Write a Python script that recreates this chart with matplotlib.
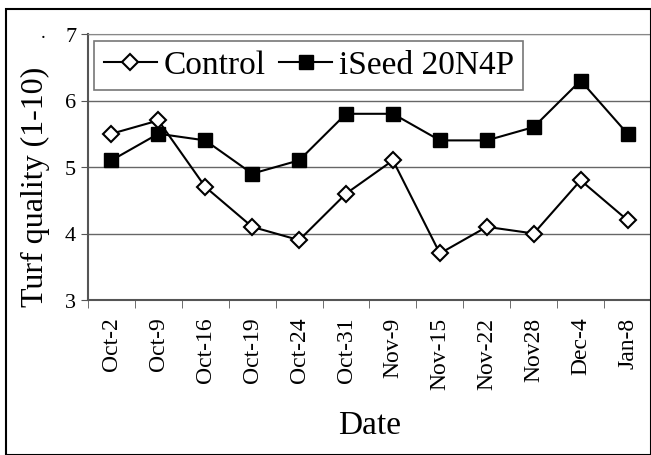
#!/usr/bin/env python3

import numpy as np
import matplotlib.pyplot as plt
from matplotlib.patches import Rectangle

plt.rcParams['font.family'] = ['Liberation Serif', 'DejaVu Serif']

dates = ["Oct-2", "Oct-9", "Oct-16", "Oct-19", "Oct-24", "Oct-31",
         "Nov-9", "Nov-15", "Nov-22", "Nov28", "Dec-4", "Jan-8"]
control = [5.5, 5.7, 4.7, 4.1, 3.9, 4.6, 5.1, 3.7, 4.1, 4.0, 4.8, 4.2]
iseed = [5.1, 5.5, 5.4, 4.9, 5.1, 5.8, 5.8, 5.4, 5.4, 5.6, 6.3, 5.5]

W, H = 651, 456
fig = plt.figure(figsize=(W/100, H/100), dpi=100)
ax = fig.add_axes([88/W, 1-301/H, (651-88)/W, (301-35)/H])

x = np.arange(len(dates))
ax.plot(x, control, color='black', lw=1.5, marker='D', ms=8,
        mfc='white', mec='black', mew=1.5, label='Control')
ax.plot(x, iseed, color='black', lw=1.5, marker='s', ms=10,
        mfc='black', mec='black', label='iSeed 20N4P')

ax.set_xlim(-0.5, len(dates)-0.5)
ax.set_ylim(3, 7)
ax.set_yticks([3, 4, 5, 6, 7])
ax.tick_params(axis='y', labelsize=16, direction='out', length=5, color='#555555')
ax.set_xticks(x)
ax.set_xticklabels(dates, rotation=90, fontsize=17)
ax.set_xticks(np.arange(len(dates)+1)-0.5, minor=True)
ax.tick_params(axis='x', which='major', length=0, pad=12)
ax.tick_params(axis='x', which='minor', length=6, direction='out', color='#555555')
ax.yaxis.grid(True, color='#666666', lw=1)
ax.set_axisbelow(True)
for s in ['top', 'right']:
    ax.spines[s].set_color('#888888')
for s in ['left', 'bottom']:
    ax.spines[s].set_color('#555555')
    ax.spines[s].set_linewidth(1.5)

ax.set_ylabel("Turf quality (1-10)", fontsize=23)
ax.yaxis.set_label_coords(-0.068, 0.43)
ax.set_xlabel("Date", fontsize=24, labelpad=15)

leg = ax.legend(loc='upper left', ncol=2, fontsize=24, frameon=True,
                fancybox=False, edgecolor='#555555', borderpad=0.28,
                handlelength=1.6, handletextpad=0.2, columnspacing=0.4,
                borderaxespad=0, bbox_to_anchor=(0.011, 0.975))
leg.get_frame().set_linewidth(1.2)

fig.text(43/W, 1-33/H, '.', fontsize=14, ha='center', va='center')
fig.add_artist(Rectangle((6/W, 0), 1-6/W, 1-10/H, transform=fig.transFigure,
                         fill=False, edgecolor='black', lw=1.5))

fig.savefig("out.png", dpi=100)
